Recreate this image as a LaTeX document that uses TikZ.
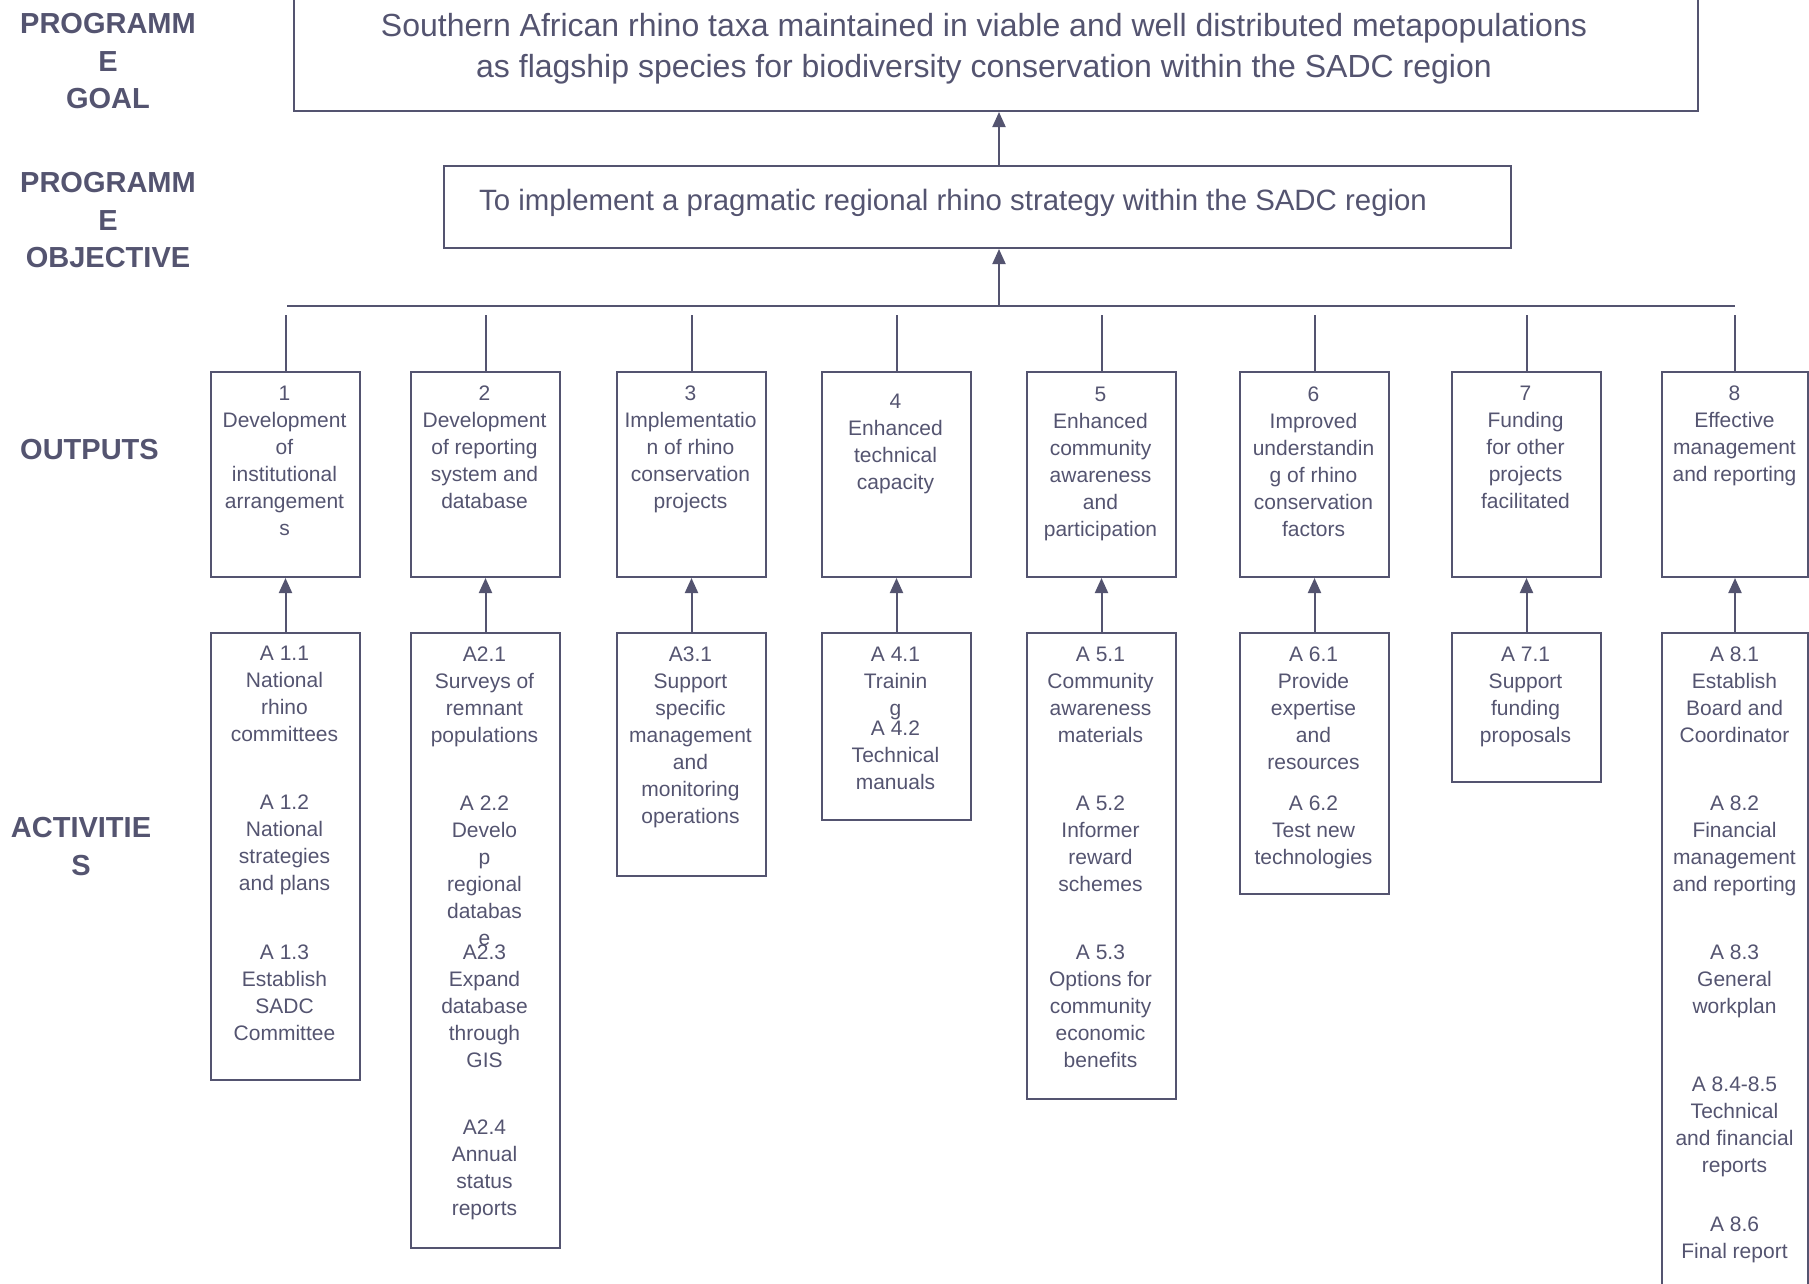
\documentclass[tikz,border=0pt]{standalone}
\usepackage{fontspec}
\setmainfont{Liberation Sans}
\usetikzlibrary{arrows.meta}
\definecolor{ink}{RGB}{84,84,112}
\begin{document}
\begin{tikzpicture}[x=1pt,y=-1pt,
  box/.style={draw=ink, line width=2pt, inner sep=0pt, anchor=north west},
  txt/.style={text=ink, inner sep=0pt, anchor=north, align=center, font=\fontsize{21}{27}\selectfont},
  big/.style={text=ink, inner sep=0pt, font=\fontsize{29.4}{41}\selectfont},
  lbl/.style={text=ink, inner sep=0pt, align=center, font=\fontsize{29}{37.5}\selectfont\bfseries},
  conn/.style={draw=ink, line width=2pt},
  arr/.style={conn, -{Triangle[width=13pt,length=15pt]}}]
\useasboundingbox (0,0) rectangle (1809,1283);

% left labels
\node[lbl, anchor=north] (lg) at (108,7.1) {\strut PROGRAMM\\E\\GOAL};
\node[lbl, anchor=north] (lo) at (108,166.1) {\strut PROGRAMM\\E\\OBJECTIVE};
\node[lbl, anchor=west] (lout) at (20,450) {OUTPUTS};
\node[lbl, anchor=north] (lact) at (81,811.1) {\strut ACTIVITIE\\S};

% goal and objective
\node[box, minimum width=1404pt, minimum height=115pt] (g) at (293,-5) {};
\node[big, anchor=north, align=center, font=\fontsize{32}{41}\selectfont] (gt) at (984,7.8) {\strut Southern African rhino taxa maintained in viable and well distributed metapopulations\\as flagship species for biodiversity conservation within the SADC region};
\node[box, minimum width=1067pt, minimum height=82pt] (obj) at (443,165) {};
\node[big, anchor=base west] (objt) at (479,210.6) {To implement a pragmatic regional rhino strategy within the SADC region};

% output boxes
\node[box, minimum width=149pt, minimum height=205pt] (o1) at (210,371) {};
\node[box, minimum width=149pt, minimum height=205pt] (o2) at (410,371) {};
\node[box, minimum width=149pt, minimum height=205pt] (o3) at (616,371) {};
\node[box, minimum width=149pt, minimum height=205pt] (o4) at (821,371) {};
\node[box, minimum width=149pt, minimum height=205pt] (o5) at (1026,371) {};
\node[box, minimum width=149pt, minimum height=205pt] (o6) at (1239,371) {};
\node[box, minimum width=149pt, minimum height=205pt] (o7) at (1451,371) {};
\node[box, minimum width=146pt, minimum height=205pt] (o8) at (1661,371) {};

\node[txt] (o1t) at (284.5,381) {\strut 1\\Development\\of\\institutional\\arrangement\\s};
\node[txt] (o2t) at (484.5,381) {\strut 2\\Development\\of reporting\\system and\\database};
\node[txt] (o3t) at (690.5,381) {\strut 3\\Implementatio\\n of rhino\\conservation\\projects};
\node[txt] (o4t) at (895.5,389) {\strut 4\\Enhanced\\technical\\capacity};
\node[txt] (o5t) at (1100.5,382) {\strut 5\\Enhanced\\community\\awareness\\and\\participation};
\node[txt] (o6t) at (1313.5,382) {\strut 6\\Improved\\understandin\\g of rhino\\conservation\\factors};
\node[txt] (o7t) at (1525.5,381) {\strut 7\\Funding\\for other\\projects\\facilitated};
\node[txt] (o8t) at (1734.5,381) {\strut 8\\Effective\\management\\and reporting};

% activity boxes
\node[box, minimum width=149pt, minimum height=447pt] (a1) at (210,632) {};
\node[box, minimum width=149pt, minimum height=615pt] (a2) at (410,632) {};
\node[box, minimum width=149pt, minimum height=243pt] (a3) at (616,632) {};
\node[box, minimum width=149pt, minimum height=187pt] (a4) at (821,632) {};
\node[box, minimum width=149pt, minimum height=466pt] (a5) at (1026,632) {};
\node[box, minimum width=149pt, minimum height=261pt] (a6) at (1239,632) {};
\node[box, minimum width=149pt, minimum height=149pt] (a7) at (1451,632) {};
\node[box, minimum width=146pt, minimum height=680pt] (a8) at (1661,632) {};

\node[txt] (a1t1) at (284.5,641.6) {\strut A 1.1\\National\\rhino\\committees};
\node[txt] (a1t2) at (284.5,790.4) {\strut A 1.2\\National\\strategies\\and plans};
\node[txt] (a1t3) at (284.5,940.4) {\strut A 1.3\\Establish\\SADC\\Committee};

\node[txt] (a2t1) at (484.5,642.7) {\strut A2.1\\Surveys of\\remnant\\populations};
\node[txt] (a2t2) at (484.5,791.6) {\strut A 2.2\\Develo\\p\\regional\\databas\\e};
\node[txt] (a2t3) at (484.5,940.4) {\strut A2.3\\Expand\\database\\through\\GIS};
\node[txt] (a2t4) at (484.5,1115.8) {\strut A2.4\\Annual\\status\\reports};

\node[txt] (a3t1) at (690.5,642.7) {\strut A3.1\\Support\\specific\\management\\and\\monitoring\\operations};

\node[txt] (a4t1) at (895.5,642.7) {\strut A 4.1\\Trainin\\g};
\node[txt] (a4t2) at (895.5,716.6) {\strut A 4.2\\Technical\\manuals};

\node[txt] (a5t1) at (1100.5,642.7) {\strut A 5.1\\Community\\awareness\\materials};
\node[txt] (a5t2) at (1100.5,791.6) {\strut A 5.2\\Informer\\reward\\schemes};
\node[txt] (a5t3) at (1100.5,940.4) {\strut A 5.3\\Options for\\community\\economic\\benefits};

\node[txt] (a6t1) at (1313.5,642.7) {\strut A 6.1\\Provide\\expertise\\and\\resources};
\node[txt] (a6t2) at (1313.5,791.6) {\strut A 6.2\\Test new\\technologies};

\node[txt] (a7t1) at (1525.5,642.7) {\strut A 7.1\\Support\\funding\\proposals};

\node[txt] (a8t1) at (1734.5,642.7) {\strut A 8.1\\Establish\\Board and\\Coordinator};
\node[txt] (a8t2) at (1734.5,791.6) {\strut A 8.2\\Financial\\management\\and reporting};
\node[txt] (a8t3) at (1734.5,940.4) {\strut A 8.3\\General\\workplan};
\node[txt] (a8t4) at (1734.5,1071.9) {\strut A 8.4-8.5\\Technical\\and financial\\reports};
\node[txt] (a8t5) at (1734.5,1212.7) {\strut A 8.6\\Final report};

% bar and connectors
\coordinate (barL) at (287,306);
\coordinate (barR) at (1735,306);
\coordinate (stem) at (999,306);
\coordinate (tick) at (0,315);
\draw[conn] (barL) -- (barR);
\draw[arr] (stem) -- (stem |- obj.south);
\draw[arr] (stem |- obj.north) -- (stem |- g.south);
\foreach \i in {1,...,8} {
  \draw[conn] (o\i.north |- tick) -- (o\i.north);
  \draw[arr] (a\i.north) -- (o\i.south);
}
\end{tikzpicture}
\end{document}
